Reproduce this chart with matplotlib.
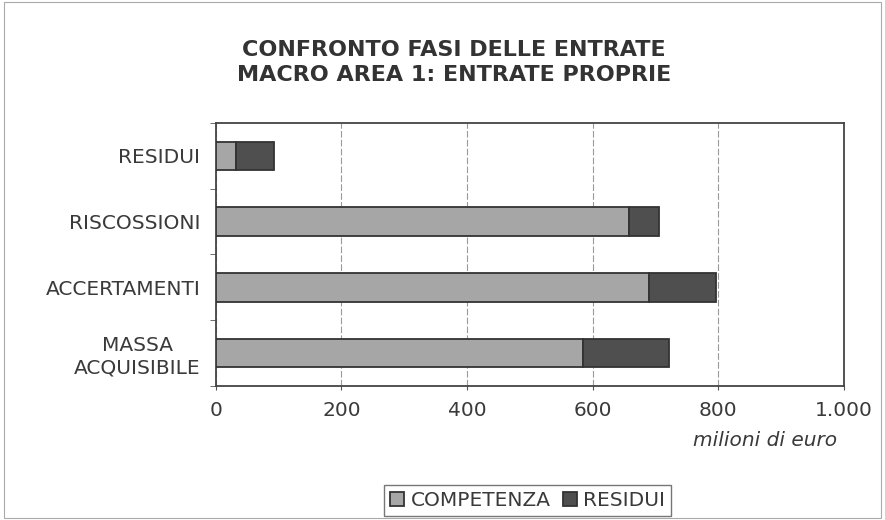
import matplotlib
matplotlib.use('Agg')
import matplotlib.pyplot as plt
from matplotlib.patches import Rectangle

# dati (milioni di euro), dal basso verso l'alto
categorie = ["MASSA\nACQUISIBILE", "ACCERTAMENTI", "RISCOSSIONI", "RESIDUI"]
competenza = [584, 689, 658, 32]
residui = [137, 107, 47, 61]
x_ticks = [0, 200, 400, 600, 800, 1000]
x_labels = ["0", "200", "400", "600", "800", "1.000"]

plt.rcParams['font.family'] = ['DejaVu Sans']

fig = plt.figure(figsize=(8.85, 5.2), dpi=100)
ax = fig.add_axes([0.2437, 0.2577, 0.71, 0.5058])

y = range(len(categorie))
ax.barh(y, competenza, height=0.43, color="#a6a6a6", edgecolor="#333333",
        linewidth=1.3, label="COMPETENZA", zorder=3)
ax.barh(y, residui, left=competenza, height=0.43, color="#4f4f4f",
        edgecolor="#333333", linewidth=1.3, label="RESIDUI", zorder=3)

ax.set_xlim(0, 1000)
ax.set_ylim(-0.5, 3.5)
ax.set_xticks(x_ticks)
ax.set_xticklabels(x_labels, fontsize=14.5, color="#3a3a3a")
ax.set_yticks(list(y))
ax.set_yticklabels(categorie, fontsize=14.5, color="#3a3a3a", multialignment="center")
ax.set_yticks([-0.5, 0.5, 1.5, 2.5, 3.5], minor=True)
ax.tick_params(axis="y", which="major", length=0, pad=11)
ax.tick_params(axis="y", which="minor", length=4, color="#555555")
ax.tick_params(axis="x", length=3, color="#555555", pad=8)
ax.grid(axis="x", color="#9a9a9a", linestyle=(0, (6, 2)), linewidth=0.8, zorder=0)
for s in ax.spines.values():
    s.set_color("#444444")
    s.set_linewidth(1.3)

ax.set_xlabel("milioni di euro", fontsize=14.5, style="italic", color="#3a3a3a",
              loc="right", labelpad=8)
ax.xaxis.label.set_x(0.989)

fig.text(0.513, 0.88, "CONFRONTO FASI DELLE ENTRATE\nMACRO AREA 1: ENTRATE PROPRIE",
         ha="center", va="center", fontsize=16, fontweight="bold", color="#333333",
         linespacing=1.3)

leg = fig.legend(loc="upper center", bbox_to_anchor=(0.596, 0.086), ncol=2,
                 fontsize=14.5, frameon=True, fancybox=False, edgecolor="#555555",
                 handlelength=0.7, handleheight=0.7, handletextpad=0.3,
                 columnspacing=0.6, borderpad=0.3)
leg.get_frame().set_linewidth(1.0)
for t in leg.get_texts():
    t.set_color("#3a3a3a")

fig.patches.append(Rectangle((0.004, 0.004), 0.992, 0.992, transform=fig.transFigure,
                             fill=False, edgecolor="#aaaaaa", linewidth=0.8))

fig.savefig("out.png", dpi=100)
